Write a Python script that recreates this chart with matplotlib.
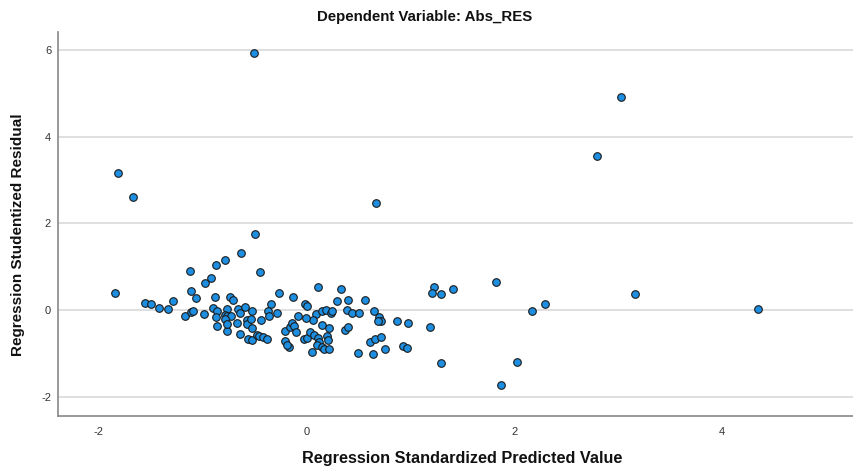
import numpy as np
import matplotlib
matplotlib.use("Agg")
import matplotlib.pyplot as plt

plt.rcParams['font.family'] = ['Liberation Sans', 'DejaVu Sans']
plt.rcParams['axes.unicode_minus'] = False

# standardized predicted value (x) and studentized residual (y)
pred = [-0.50, -1.81, -1.67, 0.67, 3.03, 2.80, -0.49, -0.63, -0.78, -0.87,
        -1.12, -0.45, -0.92, -0.98, -1.11, -1.84, -1.06, -0.88, -0.74, -0.71,
        -0.26, -0.13, -0.34, -1.55, -1.50, -1.28, -1.42, -1.33, -1.17, -1.11,
        -1.09, -0.99, -0.90, -0.86, -0.87, -0.86, -0.76, -0.76, -0.78, -0.76,
        -0.73, -0.78, -0.76, -0.67, -0.66, -0.59, -0.64, -0.52, -0.57, -0.57,
        -0.53, -0.52, -0.64, -0.56, -0.52, -0.48, -0.46, -0.42, -0.38, -0.44,
        -0.37, -0.36, -0.28, -0.21, -0.21, -0.17, -0.19, -0.16, -0.14, -0.12,
        -0.10, -0.08, -0.01, 0.01, 0.11, 0.09, 0.06, 0.00, -0.02, 0.01,
        0.03, 0.07, 0.05, 0.11, 0.12, 0.10, 0.15, 0.17, 0.22, 0.20,
        0.21, 0.15, 0.22, 0.15, 0.19, 0.24, 0.25, 0.29, 0.33, 0.40,
        0.56, 0.39, 0.44, 0.51, 0.65, 0.70, 0.72, 0.69, 0.87, 0.98,
        0.37, 0.40, 0.50, 0.64, 0.61, 0.66, 0.72, 0.76, 0.93, 0.97,
        1.19, 1.30, 1.87, 2.03, 2.17, 2.30, 1.23, 1.21, 1.30, 1.41,
        1.82, 3.16, 4.35]
resid = [5.93, 3.17, 2.61, 2.47, 4.92, 3.57, 1.75, 1.31, 1.16, 1.04,
         0.90, 0.89, 0.73, 0.62, 0.44, 0.39, 0.28, 0.31, 0.30, 0.24,
         0.39, 0.31, 0.15, 0.17, 0.15, 0.21, 0.05, 0.03, -0.14, -0.04,
         -0.02, -0.09, 0.04, -0.02, -0.17, -0.36, -0.49, 0.02, -0.12, -0.14,
         -0.13, -0.21, -0.32, -0.29, 0.02, 0.08, -0.08, -0.02, -0.23, -0.32,
         -0.21, -0.42, -0.56, -0.68, -0.69, -0.58, -0.60, -0.63, -0.68, -0.23,
         -0.02, -0.13, -0.06, -0.49, -0.72, -0.85, -0.81, -0.39, -0.31, -0.36,
         -0.50, -0.14, 0.15, 0.09, 0.54, -0.10, -0.22, -0.19, -0.66, -0.65,
         -0.50, -0.58, -0.96, -0.65, -0.74, -0.81, -0.86, -0.89, -0.91, -0.60,
         -0.70, -0.35, -0.41, -0.02, 0.00, -0.06, -0.02, 0.21, 0.48, 0.23,
         0.23, 0.00, -0.06, -0.06, -0.02, -0.15, -0.25, -0.25, -0.25, -0.29,
         -0.46, -0.40, -1.00, -1.02, -0.74, -0.68, -0.62, -0.89, -0.83, -0.87,
         -0.40, -1.23, -1.74, -1.21, -0.02, 0.15, 0.54, 0.39, 0.36, 0.48,
         0.65, 0.37, 0.03]

xticks = [-2, 0, 2, 4]
yticks = [-2, 0, 2, 4, 6]

fig = plt.figure(figsize=(8.54, 4.68), dpi=100)
ax = fig.add_axes([0.068, 0.112, 0.932, 0.82])

ax.scatter(pred, resid, s=30, c='#1e8fe0', edgecolors='#1a1a1a', linewidths=0.8, zorder=3)

ax.set_xlim(-2.39, 5.27)
ax.set_ylim(-2.44, 6.43)
ax.set_xticks(xticks)
ax.set_yticks(yticks)
ax.tick_params(axis='x', length=0, labelsize=8, labelcolor='#333333', pad=8)
ax.tick_params(axis='y', length=0, labelsize=8, labelcolor='#333333', pad=5)
ax.yaxis.grid(True, color='#d9d9d9', linewidth=1.2)
ax.set_axisbelow(True)
for s in ['top', 'right']:
    ax.spines[s].set_visible(False)
for s in ['left', 'bottom']:
    ax.spines[s].set_color('#888888')
    ax.spines[s].set_linewidth(1.2)

fig.text(0.497, 0.963, "Dependent Variable: Abs_RES", fontsize=10.8, fontweight='bold',
         ha='center', va='center', color='#111111')
fig.text(0.541, 0.021, "Regression Standardized Predicted Value", fontsize=11.7,
         fontweight='bold', ha='center', va='center', color='#111111')
fig.text(0.021, 0.498, "Regression Studentized Residual", fontsize=11,
         fontweight='bold', rotation=90, ha='center', va='center', color='#111111')

fig.savefig("out.png", dpi=100)
